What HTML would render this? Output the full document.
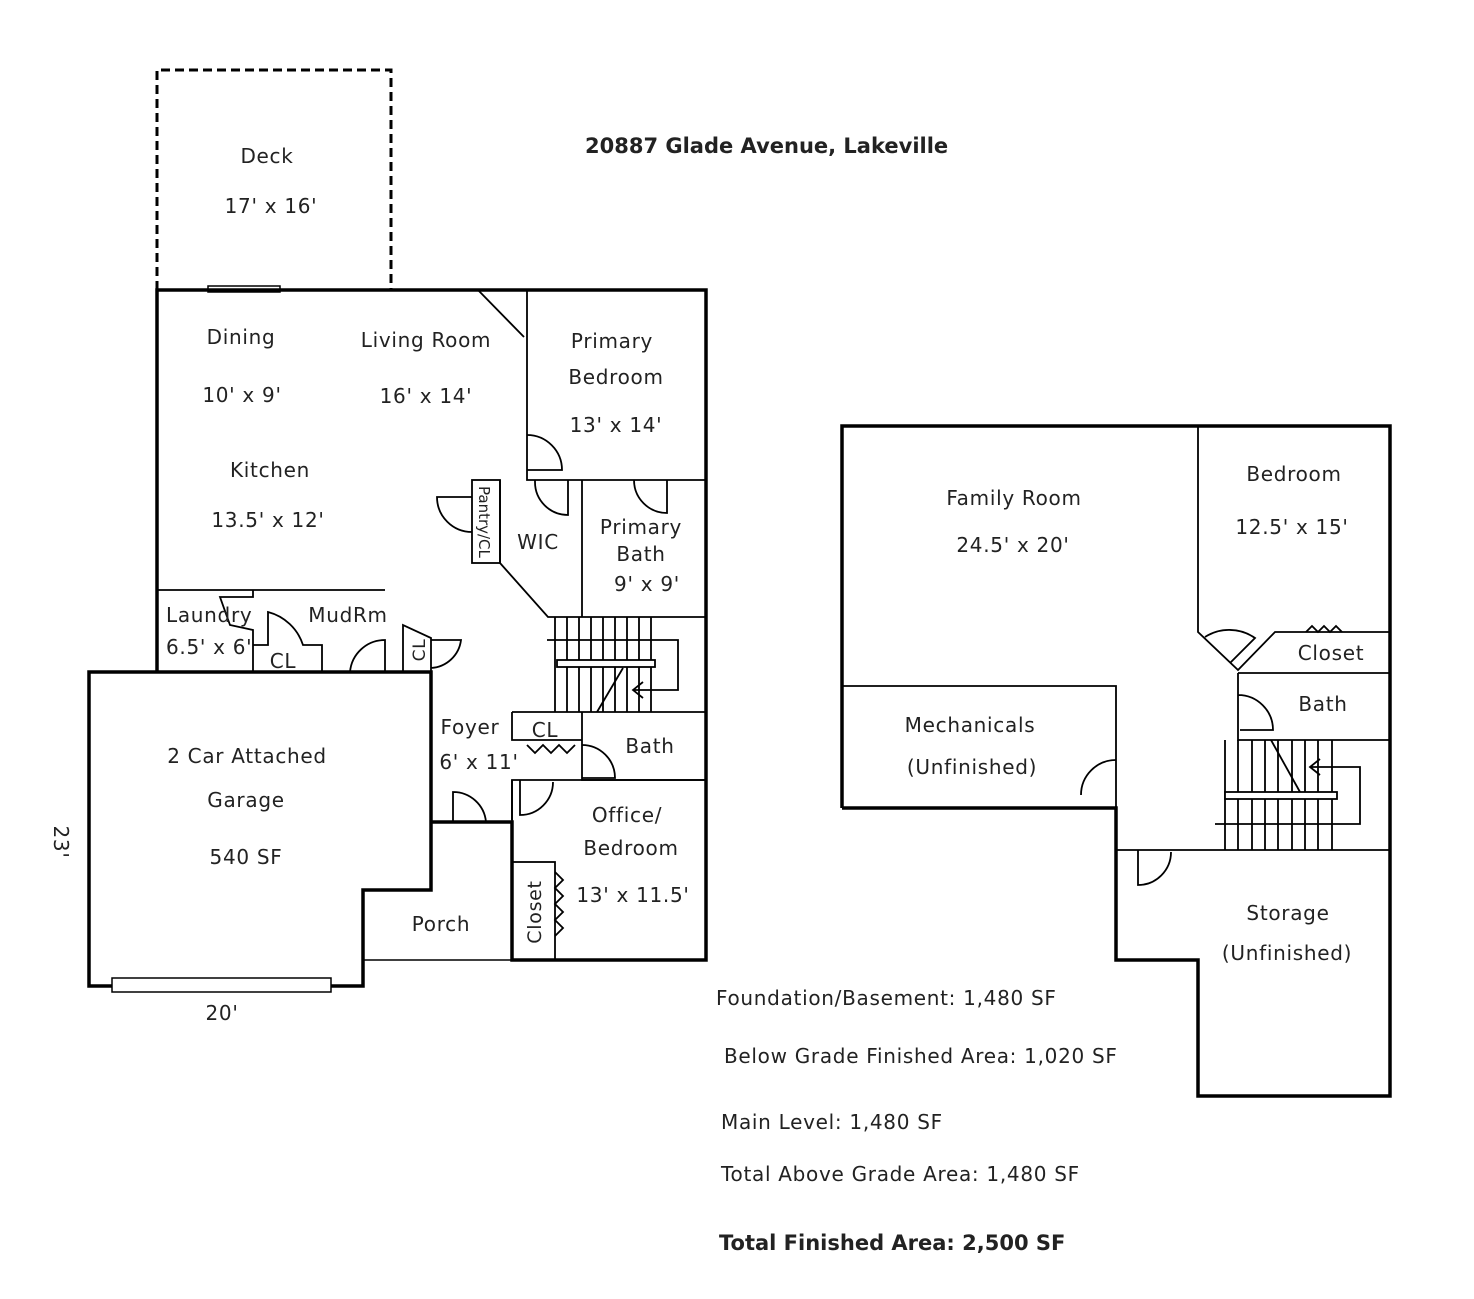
<!DOCTYPE html>
<html><head><style>body{margin:0;background:#fff}svg{display:block}text{font-family:"DejaVu Sans","Liberation Sans",sans-serif;font-size:20px;fill:#222;letter-spacing:0.7px}</style></head>
<body>
<svg width="1474" height="1299" viewBox="0 0 1474 1299" xmlns="http://www.w3.org/2000/svg">
<g fill="none" stroke="#000">
<path d="M157 290 V70 H391 V290" stroke-width="3" stroke-dasharray="9,5"/>
<rect x="208" y="286" width="72" height="6" stroke-width="1.5"/>
<path d="M157 672 V290 H706 V960 H512 V822 H431" stroke-width="3.5"/>
<path d="M89 672 H431 V890 H363 V986 H89 Z" stroke-width="3.5"/>
<rect x="112" y="978" width="219" height="14" fill="#fff" stroke-width="1.5"/>
<path d="M363 960 H512" stroke-width="1.5"/>
<g stroke-width="1.8">
<path d="M478 290 L524 337"/>
<path d="M527 290 V480 H706"/>
<path d="M527 435 A35 35 0 0 1 562 470 H527"/>
<rect x="472" y="480" width="28" height="83"/>
<path d="M472 497 H437 A35 35 0 0 0 472 532"/>
<path d="M500 480 V563 L548 617 H706"/>
<path d="M582 480 V617"/>
<path d="M535 480 V482 A33 33 0 0 0 568 515 V480"/>
<path d="M634 480 A33 33 0 0 0 667 513 V480"/>
<path d="M512 712 H706 M512 712 V740 H582 V712 M582 740 V780 H706"/>
<path d="M527 745 l8 8 l8 -8 l8 8 l8 -8 l8 8 l8 -8"/>
<path d="M582 745 A33 33 0 0 1 615 778 H582"/>
<path d="M512 780 V820 M520 780 V815 A33 33 0 0 0 553 782"/>
<path d="M512 960 V780 H706"/>
<rect x="512" y="862" width="43" height="98"/>
<path d="M555 872 l8 8 l-8 8 l8 8 l-8 8 l8 8 l-8 8 l8 8 l-8 8"/>
<path d="M453 822 V792 A33 33 0 0 1 486 822"/>
<path d="M555 617 V712 M567 617 V712 M579 617 V712 M591 617 V712 M603 617 V712 M615 617 V712 M627 617 V712 M639 617 V712 M651 617 V712"/>
<path d="M547 640 H678 V690 H633 M643 682 L633 690 L643 698"/>
<rect x="557" y="660" width="98" height="7" fill="#fff"/>
<path d="M623 668 L597 712"/>
<path d="M157 590 H385"/>
<path d="M253 590 V597 H220 L230 625 L253 630 V672"/>
<path d="M253 645 H268 V612 A50 50 0 0 1 303 645 H322 V672"/>
<path d="M350 672 A35 35 0 0 1 385 640 V672"/>
<path d="M403 672 V625 L431 638 V672 M431 640 H461 A32 32 0 0 1 431 668"/>
<path d="M842 808 V426 H1390 V1096 H1198 V960 H1116 V808 H842" stroke-width="3.5"/>
<path d="M842 686 H1116 V808"/>
<path d="M1081 795 A35 35 0 0 1 1116 760"/>
<path d="M1198 426 V632 L1238 670 L1275 632 H1390 M1238 673 H1390"/>
<path d="M1205 637 A45 45 0 0 1 1255 638 L1230 663"/>
<path d="M1306 632 l6 -6 l6 6 l6 -6 l6 6 l6 -6 l6 6"/>
<path d="M1238 673 V740 H1390 M1238 695 A35 35 0 0 1 1273 730 H1240"/>
<path d="M1225 740 V850 M1238 740 V850 M1252 740 V850 M1265 740 V850 M1278 740 V850 M1292 740 V850 M1305 740 V850 M1318 740 V850 M1332 740 V850"/>
<path d="M1215 824 H1360 V767 H1310 M1320 759 L1310 767 L1320 775"/>
<rect x="1225" y="792" width="112" height="7" fill="#fff"/>
<path d="M1271 740 L1300 792"/>
<path d="M1116 850 H1390"/>
<path d="M1138 850 V885 A33 33 0 0 0 1171 852"/>
</g>
</g>
<text x="585" y="153" style="font-weight:bold;font-size:21px;letter-spacing:0">20887 Glade Avenue, Lakeville</text>
<g text-anchor="middle">
<text x="267" y="163">Deck</text><text x="271" y="213">17' x 16'</text>
<text x="241" y="344">Dining</text><text x="242" y="402">10' x 9'</text>
<text x="426" y="347">Living Room</text><text x="426" y="403">16' x 14'</text>
<text x="612" y="348">Primary</text><text x="616" y="384">Bedroom</text><text x="616" y="432">13' x 14'</text>
<text x="270" y="477">Kitchen</text><text x="268" y="527">13.5' x 12'</text>
<text x="538" y="549">WIC</text>
<text x="641" y="534">Primary</text><text x="641" y="561">Bath</text><text x="647" y="591">9' x 9'</text>
<text x="470" y="734">Foyer</text><text x="479" y="769">6' x 11'</text>
<text x="545" y="737">CL</text>
<text x="650" y="753">Bath</text>
<text x="627" y="822">Office/</text><text x="631" y="855">Bedroom</text><text x="633" y="902">13' x 11.5'</text>
<text x="441" y="931">Porch</text>
<text x="247" y="763">2 Car Attached</text><text x="246" y="807">Garage</text><text x="246" y="864">540 SF</text>
<text x="222" y="1020">20'</text>
<text x="348" y="622">MudRm</text>
<text x="283" y="668">CL</text>
<text x="1014" y="505">Family Room</text><text x="1013" y="552">24.5' x 20'</text>
<text x="1294" y="481">Bedroom</text><text x="1292" y="534">12.5' x 15'</text>
<text x="1331" y="660">Closet</text>
<text x="1323" y="711">Bath</text>
<text x="970" y="732">Mechanicals</text><text x="972" y="774">(Unfinished)</text>
<text x="1288" y="920">Storage</text><text x="1287" y="960">(Unfinished)</text>
</g>
<text x="166" y="622">Laundry</text><text x="166" y="654">6.5' x 6'</text>
<text transform="translate(54 842) rotate(90)" text-anchor="middle">23'</text>
<text transform="translate(479 486) rotate(90)" style="font-size:15px;letter-spacing:0">Pantry/CL</text>
<text transform="translate(425 650) rotate(-90)" text-anchor="middle" style="font-size:17px">CL</text>
<text transform="translate(541 912) rotate(-90)" text-anchor="middle" style="font-size:19px">Closet</text>
<text x="716" y="1005">Foundation/Basement: 1,480 SF</text>
<text x="724" y="1063">Below Grade Finished Area: 1,020 SF</text>
<text x="721" y="1129">Main Level: 1,480 SF</text>
<text x="721" y="1181">Total Above Grade Area: 1,480 SF</text>
<text x="719" y="1250" style="font-weight:bold;font-size:21px;letter-spacing:0">Total Finished Area: 2,500 SF</text>
</svg>
</body></html>
